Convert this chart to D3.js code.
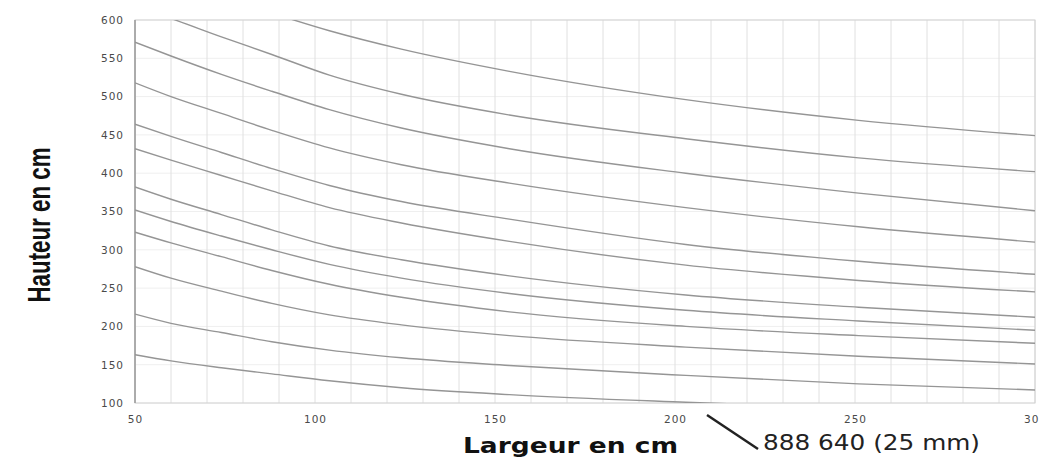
<!DOCTYPE html>
<html>
<head>
<meta charset="utf-8">
<script src="https://cdn.jsdelivr.net/npm/d3@7"></script>
<style>
  body { margin: 0; background: #fff; }
  svg { display: block; }
</style>
</head>
<body>
<script>
// largeur (cm) aux points relevés
const largeur = [50, 60, 74, 88, 104, 124, 154, 203, 251, 300];

// hauteurs (cm) de chaque courbe, de la plus haute à la plus basse
const courbe1 = [null, null, null, 609, 586, 562, 533, 496, 469, 449];
const courbe2 = [618, 602, 578, 555, 528, 503, 476, 445, 420, 402];
const courbe3 = [571, 553, 529, 507, 483, 459, 432, 400, 374, 351];
const courbe4 = [518, 500, 478, 456, 433, 411, 387, 355, 330, 310];
const courbe5 = [464, 448, 427, 406, 384, 363, 340, 307, 285, 268];
const courbe6 = [432, 417, 397, 377, 355, 335, 311, 280, 260, 245];
const courbe7 = [382, 366, 346, 326, 305, 287, 266, 241, 225, 212];
const courbe8 = [352, 337, 318, 300, 281, 263, 243, 221, 207, 195];
const courbe9 = [323, 309, 291, 273, 255, 238, 219, 200, 188, 178];
const courbe10 = [278, 263, 246, 230, 215, 202, 188, 173, 161, 151];
const courbe11 = [216, 204, 192, 180, 169, 159, 149, 136, 125, 117];
const courbe12 = [163, 155, 146, 138, 129, 120, 111, 101, 93, null]; // 888 640 (25 mm)

const xTicks = [50, 100, 150, 200, 250, 300];
const yTicks = [100, 150, 200, 250, 300, 350, 400, 450, 500, 550, 600];
const xGrid = d3.range(50, 301, 10);

const courbes = [courbe1, courbe2, courbe3, courbe4, courbe5, courbe6,
                 courbe7, courbe8, courbe9, courbe10, courbe11, courbe12];

const W = 1039, H = 463;
const m = {left: 135, top: 20, right: 4, bottom: 60};

const svg = d3.select("body").append("svg")
  .attr("width", W)
  .attr("height", H);

const x = d3.scaleLinear().domain([50, 300]).range([m.left, W - m.right]);
const y = d3.scaleLinear().domain([100, 600]).range([H - m.bottom, m.top]);

svg.append("clipPath").attr("id", "zone")
  .append("rect")
  .attr("x", x(50)).attr("y", y(600))
  .attr("width", x(300) - x(50)).attr("height", y(100) - y(600));

// grille
svg.append("g").selectAll("line")
  .data(yTicks)
  .enter().append("line")
  .attr("x1", x(50)).attr("x2", x(300))
  .attr("y1", d => y(d)).attr("y2", d => y(d))
  .attr("stroke", "#efefef");

svg.append("g").selectAll("line")
  .data(xGrid)
  .enter().append("line")
  .attr("x1", d => x(d)).attr("x2", d => x(d))
  .attr("y1", y(600)).attr("y2", y(100))
  .attr("stroke", "#e0e0e0");

// cadre
svg.append("rect")
  .attr("x", x(50)).attr("y", y(600))
  .attr("width", x(300) - x(50)).attr("height", y(100) - y(600))
  .attr("fill", "none").attr("stroke", "#d2d2d2");

svg.append("line")
  .attr("x1", x(50)).attr("x2", x(50))
  .attr("y1", y(600)).attr("y2", y(100))
  .attr("stroke", "#9a9a9a").attr("stroke-width", 1.5);

// courbes
const ligne = d3.line()
  .defined(d => d[1] != null)
  .x(d => x(d[0]))
  .y(d => y(d[1]))
  .curve(d3.curveMonotoneX);

svg.append("g").attr("clip-path", "url(#zone)")
  .selectAll("path")
  .data(courbes)
  .enter().append("path")
  .attr("d", c => ligne(largeur.map((l, i) => [l, c[i]])))
  .attr("fill", "none")
  .attr("stroke", "#959595")
  .attr("stroke-width", 1.4);

// axes
const axeX = svg.append("g")
  .attr("transform", "translate(0," + y(100) + ")")
  .call(d3.axisBottom(x).tickValues(xTicks).tickSize(0).tickPadding(13));
const axeY = svg.append("g")
  .attr("transform", "translate(" + x(50) + ",0)")
  .call(d3.axisLeft(y).tickValues(yTicks).tickSize(0).tickPadding(11));

[axeX, axeY].forEach(a => {
  a.select(".domain").remove();
  a.selectAll("text")
    .attr("font-family", "DejaVu Sans, sans-serif")
    .attr("font-size", 10.5)
    .attr("letter-spacing", 1)
    .attr("fill", "#4a4a4a");
});

// titres
svg.append("text")
  .attr("x", 463).attr("y", 453)
  .attr("font-family", "DejaVu Sans, sans-serif")
  .attr("font-weight", "bold")
  .attr("font-size", 22)
  .attr("textLength", 215)
  .attr("lengthAdjust", "spacingAndGlyphs")
  .attr("fill", "#111")
  .text("Largeur en cm");

svg.append("text")
  .attr("transform", "translate(50,225) rotate(-90)")
  .attr("text-anchor", "middle")
  .attr("font-family", "Liberation Sans Narrow, Liberation Sans, sans-serif")
  .attr("font-weight", "bold")
  .attr("font-size", 32)
  .attr("textLength", 155)
  .attr("lengthAdjust", "spacingAndGlyphs")
  .attr("fill", "#111")
  .text("Hauteur en cm");

// annotation
svg.append("line")
  .attr("x1", 707).attr("y1", 415)
  .attr("x2", 758).attr("y2", 449)
  .attr("stroke", "#222").attr("stroke-width", 2.5);

svg.append("text")
  .attr("x", 763).attr("y", 450)
  .attr("font-family", "DejaVu Sans, sans-serif")
  .attr("font-size", 22)
  .attr("textLength", 217)
  .attr("lengthAdjust", "spacingAndGlyphs")
  .attr("fill", "#222")
  .text("888 640 (25 mm)");
</script>
</body>
</html>
